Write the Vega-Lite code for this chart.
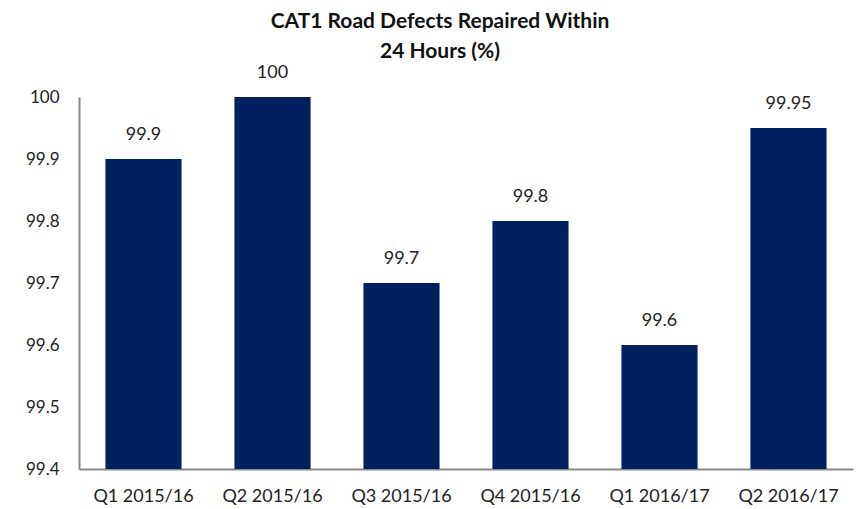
{
  "$schema": "https://vega.github.io/schema/vega-lite/v6.json",
  "width": 774,
  "height": 372,
  "autosize": "none",
  "padding": {"left": 79, "top": 97, "right": 3, "bottom": 40},
  "background": "white",
  "config": {"view": {"stroke": null}, "font": "Lato"},
  "title": {
    "text": ["CAT1 Road Defects Repaired Within", "24 Hours (%)"],
    "font": "Lato",
    "fontSize": 21,
    "fontWeight": "bold",
    "color": "#111111",
    "anchor": "middle",
    "frame": "group",
    "lineHeight": 30,
    "offset": 2,
    "dx": -26
  },
  "data": {
    "values": [
      {"quarter": "Q1 2015/16", "pct": 99.9},
      {"quarter": "Q2 2015/16", "pct": 100},
      {"quarter": "Q3 2015/16", "pct": 99.7},
      {"quarter": "Q4 2015/16", "pct": 99.8},
      {"quarter": "Q1 2016/17", "pct": 99.6},
      {"quarter": "Q2 2016/17", "pct": 99.95}
    ]
  },
  "encoding": {
    "x": {
      "field": "quarter",
      "type": "nominal",
      "sort": null,
      "scale": {"paddingInner": 0.41, "paddingOuter": 0.205},
      "axis": {
        "title": null,
        "labelAngle": 0,
        "ticks": false,
        "labelFontSize": 18,
        "labelFont": "Lato",
        "labelColor": "#222222",
        "labelPadding": 18,
        "domainColor": "#898989",
        "domainWidth": 2
      }
    },
    "y": {
      "field": "pct",
      "type": "quantitative",
      "scale": {"domain": [99.4, 100], "zero": false, "nice": false},
      "axis": {
        "title": null,
        "values": [99.4, 99.5, 99.6, 99.7, 99.8, 99.9, 100],
        "format": "~g",
        "grid": false,
        "ticks": false,
        "labelFontSize": 17,
        "labelFont": "Lato",
        "labelColor": "#222222",
        "labelPadding": 20,
        "domainColor": "#898989",
        "domainWidth": 2
      }
    }
  },
  "layer": [
    {
      "mark": {"type": "bar", "color": "#002060"},
      "encoding": {"y2": {"datum": 99.4}}
    },
    {
      "mark": {"type": "text", "dy": -24, "fontSize": 18, "font": "Lato", "color": "#222222", "baseline": "middle"},
      "encoding": {"text": {"field": "pct", "type": "quantitative", "format": "~g"}}
    }
  ]
}
